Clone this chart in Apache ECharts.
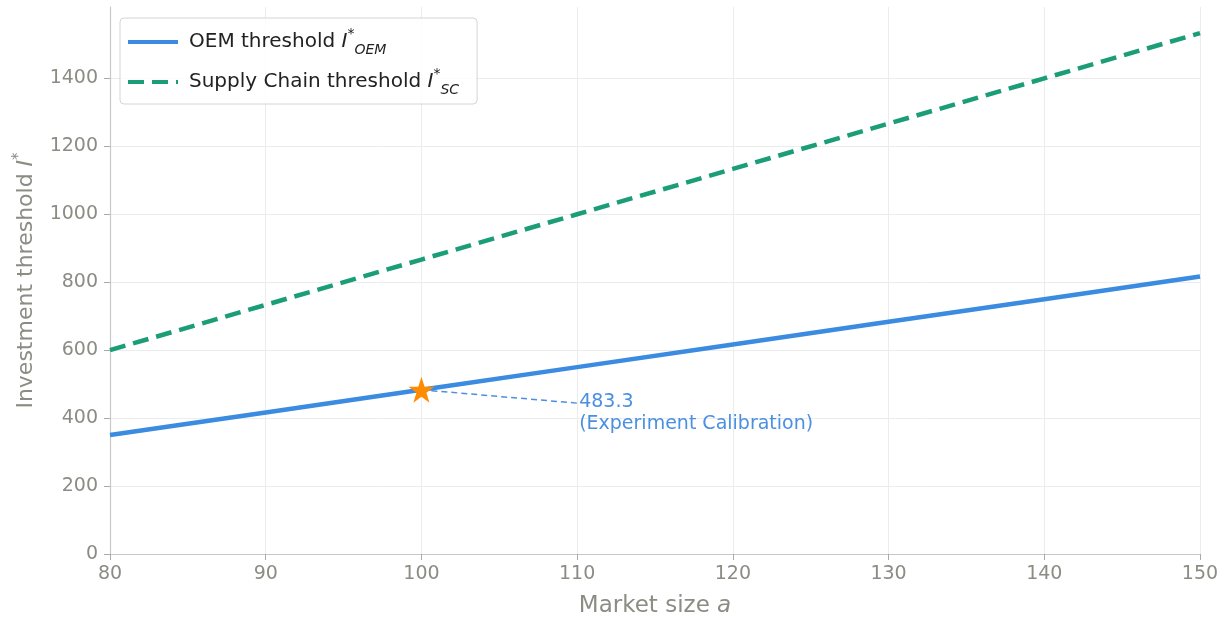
<!DOCTYPE html>
<html><head><meta charset="utf-8">
<script src="https://cdn.jsdelivr.net/npm/echarts@6/dist/echarts.min.js"></script>
<style>html,body{margin:0;padding:0;background:#fff}#c{width:1225px;height:619px}</style>
</head><body><div id="c"></div>
<script>
const marketSize = [80, 90, 100, 110, 120, 130, 140, 150];
const oemThreshold = [350, 416.7, 483.3, 550, 616.7, 683.3, 750, 816.7];
const scThreshold = [600, 733.3, 866.7, 1000, 1133.3, 1266.7, 1400, 1533.3];
const calibPoint = [100, 483.3];
const calibLabelAt = [110, 444];
const calibText = ['483.3', '(Experiment Calibration)'];
const yTicks = [0, 200, 400, 600, 800, 1000, 1200, 1400];

const star = 'path://M50,0 L61.8,35.4 L99,35.4 L68.8,57.3 L80.3,92.7 L50,70.8 L19.7,92.7 L31.2,57.3 L1,35.4 L38.2,35.4 Z';
const grey = '#8c8c84';
const ff = 'DejaVu Sans';
const chart = echarts.init(document.getElementById('c'), null, {renderer: 'canvas'});
chart.setOption({
  animation: false,
  grid: {left: 110, right: 25, top: 7, bottom: 65, containLabel: false, outerBoundsMode: 'none'},
  legend: {
    orient: 'vertical', left: 120, top: 18,
    padding: [9, 18, 7, 6], itemGap: 10, itemWidth: 50, itemHeight: 30,
    backgroundColor: 'rgba(255,255,255,0.85)', borderColor: '#d4d4d4', borderWidth: 1, borderRadius: 4,
    itemStyle: {opacity: 0},
    data: [{name: 'OEM', lineStyle: {width: 4}}, {name: 'SC', lineStyle: {width: 4}}],
    formatter: function (n) {
      return n === 'OEM' ? '{t|OEM threshold }{i|I}{sup|*}{sub|OEM}' : '{t|Supply Chain threshold }{i|I}{sup|*}{sub|SC}';
    },
    textStyle: {
      color: '#222', fontSize: 20, fontFamily: ff, padding: [0, 0, 0, 6],
      rich: {
        t: {fontSize: 20, fontFamily: ff, color: '#222', lineHeight: 30, verticalAlign: 'middle'},
        i: {fontSize: 20, fontFamily: ff, fontStyle: 'italic', color: '#222', lineHeight: 30, verticalAlign: 'middle'},
        sup: {fontSize: 14, fontFamily: ff, color: '#222', verticalAlign: 'top', lineHeight: 14},
        sub: {fontSize: 14, fontFamily: ff, fontStyle: 'italic', color: '#222', verticalAlign: 'bottom', lineHeight: 14}
      }
    }
  },
  xAxis: {
    type: 'value', min: 80, max: 150, interval: 10,
    name: '{n|Market size }{i|a}', nameLocation: 'middle', nameGap: 41,
    nameTextStyle: {rich: {n: {fontSize: 23, color: grey, fontFamily: ff}, i: {fontSize: 23, color: grey, fontStyle: 'italic', fontFamily: ff}}},
    axisLine: {show: true, lineStyle: {color: '#c8c8c8', width: 1.2}},
    axisTick: {show: true, length: 6, lineStyle: {color: '#aaa'}},
    axisLabel: {color: grey, fontSize: 19, fontFamily: ff, margin: 11},
    splitLine: {show: true, lineStyle: {color: '#ececec', width: 1}}
  },
  yAxis: {
    type: 'value', min: 0, max: 1610, interval: 200,
    name: '{n|Investment threshold }{i|I}{s|*}', nameLocation: 'middle', nameGap: 70, nameRotate: 90,
    nameTextStyle: {rich: {n: {fontSize: 22, color: grey, fontFamily: ff, lineHeight: 28, verticalAlign: 'middle'}, i: {fontSize: 22, color: grey, fontStyle: 'italic', fontFamily: ff, lineHeight: 28, verticalAlign: 'middle'}, s: {fontSize: 15, color: grey, verticalAlign: 'top', lineHeight: 15, fontFamily: ff}}},
    axisLine: {show: true, lineStyle: {color: '#c8c8c8', width: 1.2}},
    axisTick: {show: true, length: 6, lineStyle: {color: '#aaa'}, customValues: yTicks},
    axisLabel: {color: grey, fontSize: 19, fontFamily: ff, margin: 12, customValues: yTicks, formatter: v => String(v)},
    splitLine: {show: true, lineStyle: {color: '#ececec', width: 1}}
  },
  series: [
    {
      name: 'OEM', type: 'line', symbol: 'none', z: 3,
      data: marketSize.map((a, i) => [a, oemThreshold[i]]),
      lineStyle: {color: '#3b8be0', width: 4.5}, itemStyle: {color: '#3b8be0'}
    },
    {
      name: 'SC', type: 'line', symbol: 'none', z: 3,
      data: marketSize.map((a, i) => [a, scThreshold[i]]),
      lineStyle: {color: '#1b9e77', width: 4.5, type: [16, 8]}, itemStyle: {color: '#1b9e77'}
    },
    {
      name: 'annot', type: 'line', symbol: 'none', z: 4,
      data: [calibPoint, calibLabelAt],
      lineStyle: {color: '#4a90e2', width: 1.5, type: [6, 4]},
      endLabel: {show: true, formatter: calibText.join('\n'), color: '#4a90e2', fontSize: 19, fontFamily: ff, align: 'left', verticalAlign: 'top', lineHeight: 22, offset: [-2, -12], distance: 4}
    },
    {
      name: 'star', type: 'scatter', symbol: star, symbolSize: 26, z: 5,
      data: [calibPoint], itemStyle: {color: '#ff8c00', opacity: 1}
    }
  ]
});
</script></body></html>
